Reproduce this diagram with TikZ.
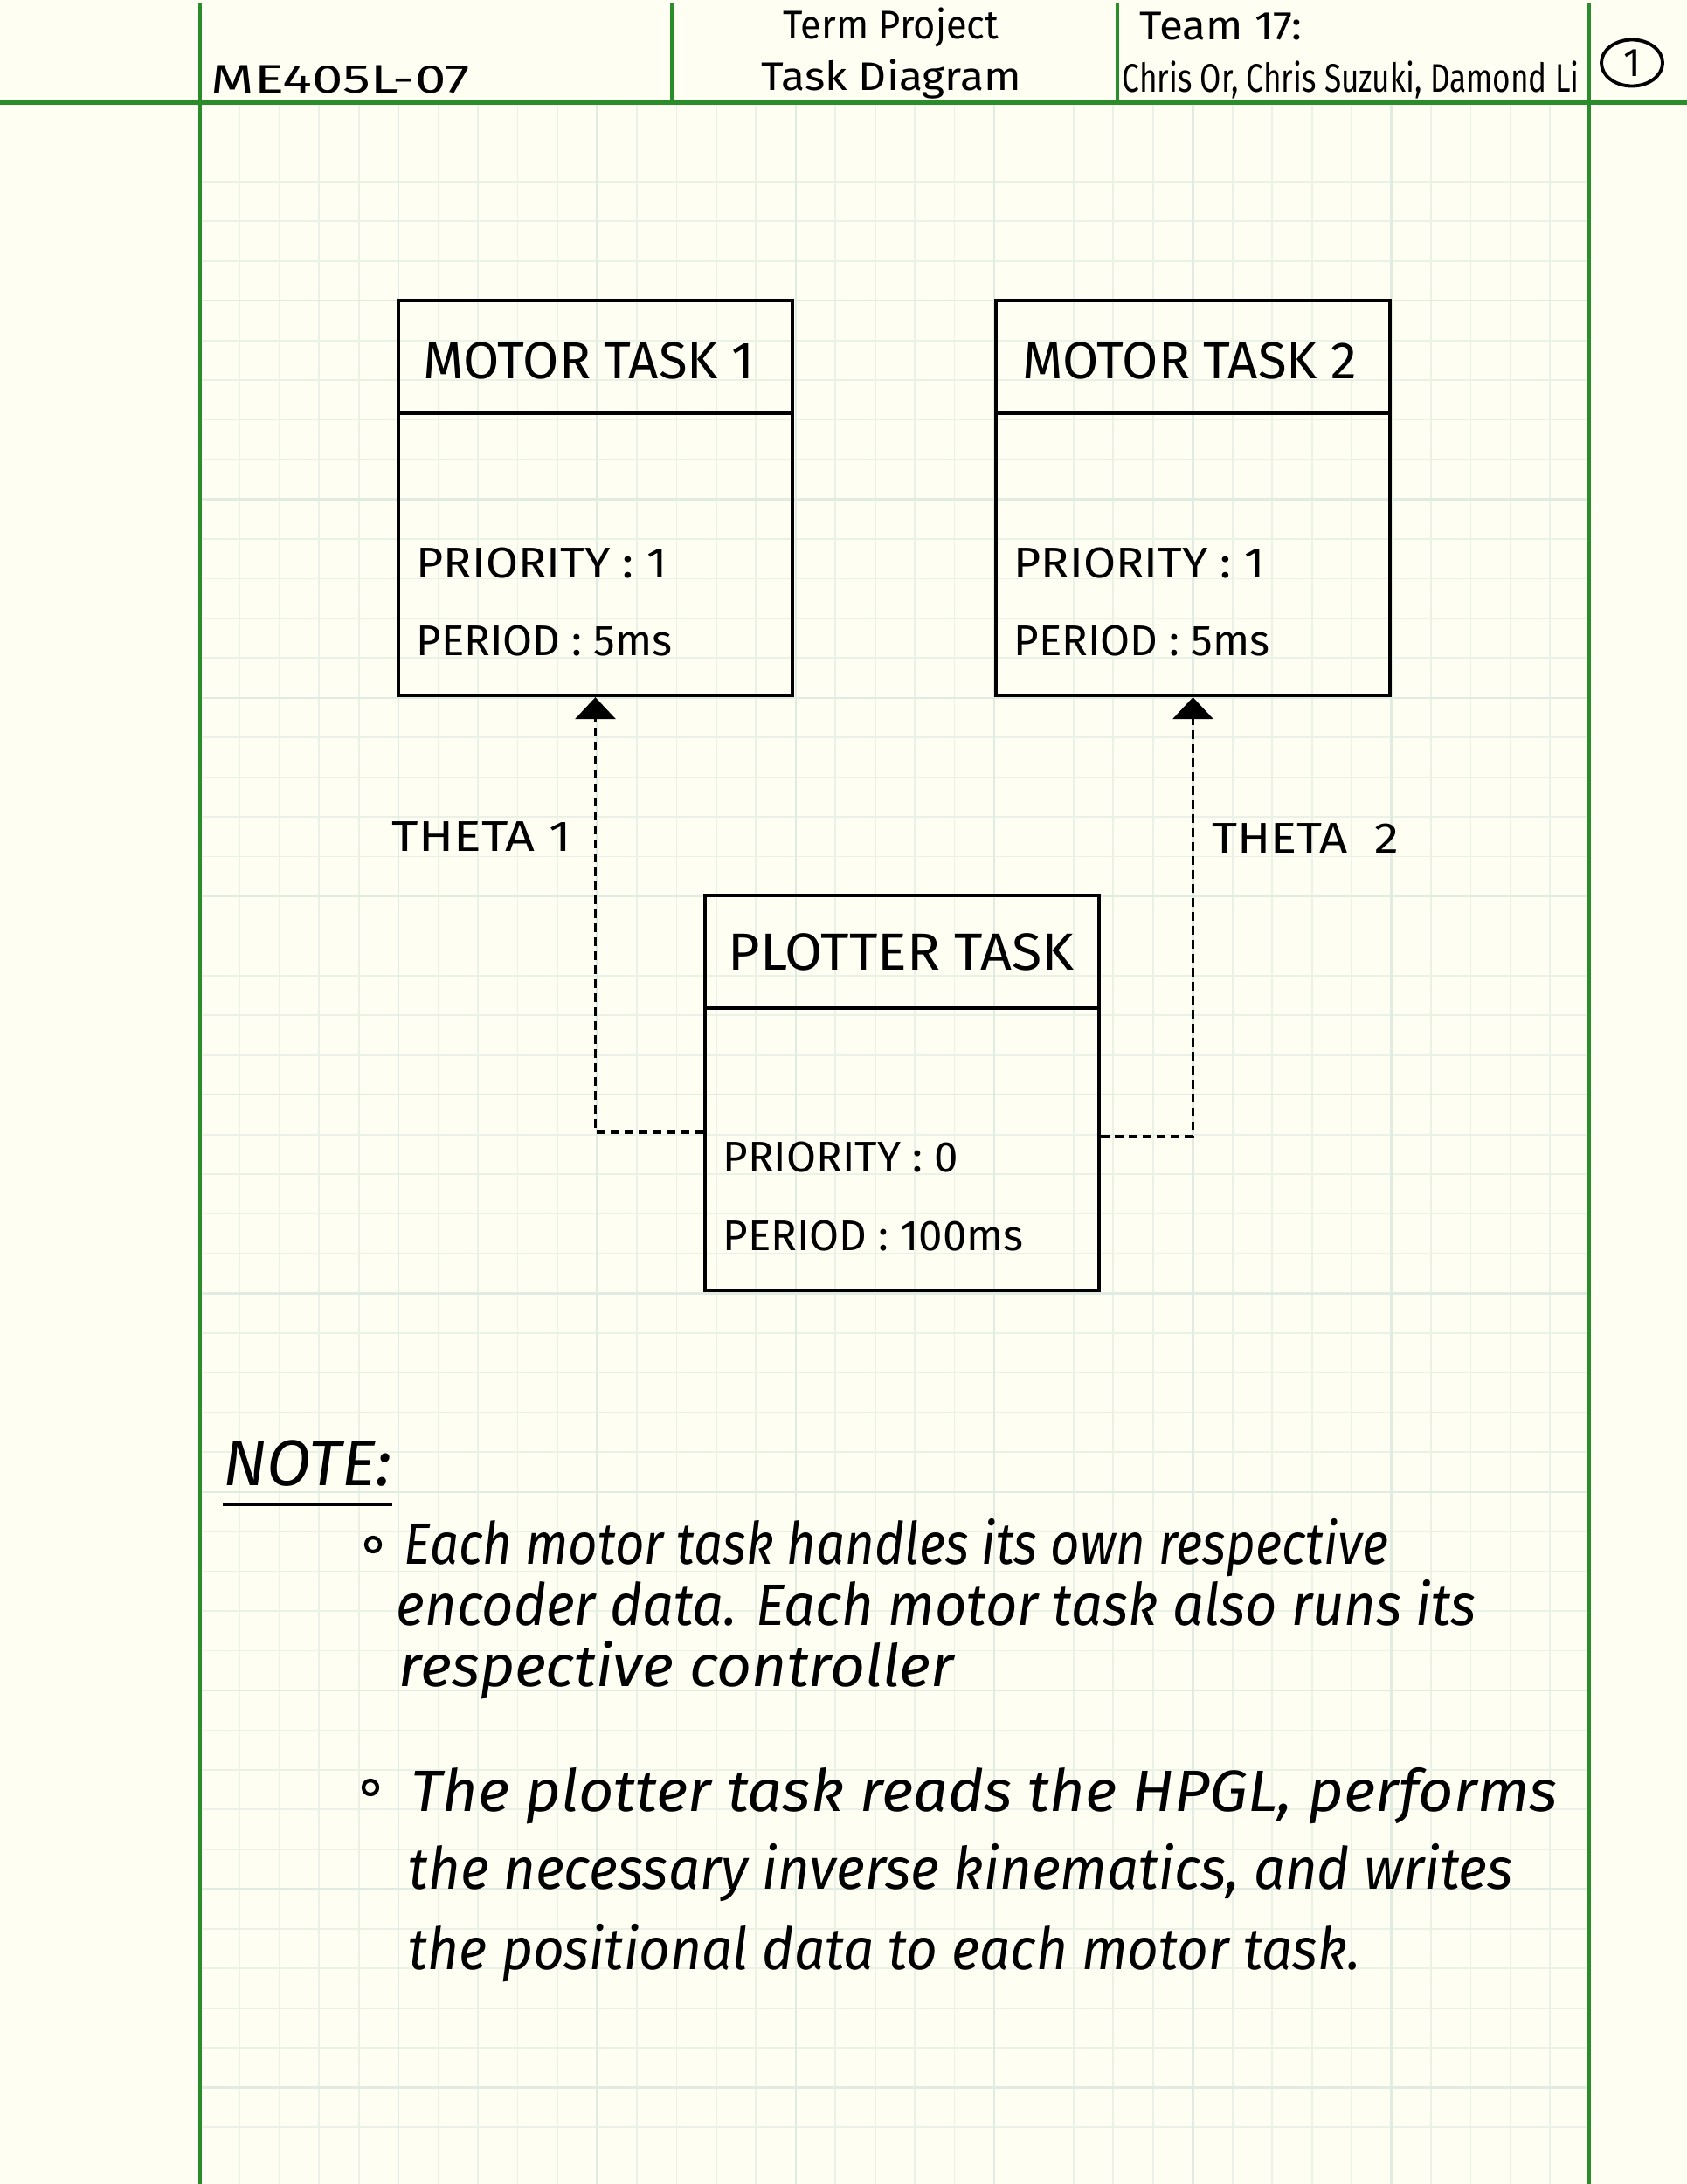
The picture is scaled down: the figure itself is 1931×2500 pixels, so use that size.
\documentclass[tikz,border=0pt]{standalone}
\usepackage{fontspec}
\usepackage{tikz}
\usetikzlibrary{arrows.meta,shapes.geometric,positioning}
\setmainfont{Fira Sans}
\definecolor{pad-paper}{RGB}{254,254,243}
\definecolor{pad-green}{RGB}{42,140,42}
\definecolor{pad-grid}{RGB}{234,241,231}
\definecolor{pad-gridmajor}{RGB}{224,235,226}
\newcommand{\widen}[2]{\scalebox{#1}[1]{#2}}

\begin{document}
\begin{tikzpicture}[x=0.01cm, y=-0.01cm,
    taskbox/.style={draw, line width=1.15pt, minimum width=4.51cm, minimum height=4.52cm, inner sep=0pt},
    divider/.style={line width=1.15pt},
    title/.style={anchor=west, inner sep=0pt, font=\fontsize{17}{17}\selectfont},
    field/.style={anchor=west, inner sep=0pt, font=\fontsize{14}{14}\selectfont},
    dataflow/.style={dash pattern=on 0.1cm off 0.06cm, line width=1pt, -{Triangle[width=0.46cm,length=0.25cm]}},
    header/.style={inner sep=0pt, font=\fontsize{13}{13}\selectfont},
    noteline/.style={anchor=base west, inner sep=0pt, font=\itshape\fontsize{19}{19}\selectfont},
    bulletdot/.style={draw, circle, line width=1.2pt, minimum size=0.16cm, inner sep=0pt},
    margin/.style={pad-green, line width=1.1pt}]
    \useasboundingbox (0,0) rectangle (1931,2500);
    \fill[pad-paper] (0,0) rectangle (1931,2500);

    % graph paper
    \foreach \k in {0,...,35}
        \draw[pad-grid, line width=0.5pt] ({229+45.45*\k},117) -- ({229+45.45*\k},2500);
    \foreach \k in {0,...,52}
        \draw[pad-grid, line width=0.5pt] (229,{117+45.45*\k}) -- (1819,{117+45.45*\k});
    \foreach \k in {0,5,...,35}
        \draw[pad-gridmajor, line width=0.7pt] ({229+45.45*\k},117) -- ({229+45.45*\k},2500);
    \foreach \k in {0,5,...,50}
        \draw[pad-gridmajor, line width=0.7pt] (229,{117+45.45*\k}) -- (1819,{117+45.45*\k});

    % title block
    \draw[margin] (229,4) -- (229,2500);
    \draw[margin] (1819,4) -- (1819,2500);
    \draw[margin] (769,4) -- (769,117);
    \draw[margin] (1279,4) -- (1279,117);
    \draw[pad-green, line width=1.5pt] (0,117) -- (1931,117);

    \node[header, anchor=west] (course) at (241,91) {\widen{1.39}{ME405L-07}};
    \node[header] (proj) at (1020,32) {\widen{0.95}{Term Project}};
    \node[header] (diag) at (1020,91) {\widen{1.09}{Task Diagram}};
    \node[header, anchor=west] (team) at (1304,30) {\widen{1.08}{Team 17:}};
    \node[header, anchor=west] (names) at (1284,91) {\widen{0.77}{Chris Or, Chris Suzuki, Damond Li}};
    \node[header, draw, ellipse, line width=1.1pt, minimum width=0.7cm, minimum height=0.53cm] (page) at (1868,72) {1};

    % tasks
    \node[taskbox] (m1) at (681.5,570) {};
    \node[taskbox] (m2) at (1365.5,570) {};
    \node[taskbox] (plot) at (1032.5,1251) {};

    \draw[divider] ([yshift=-1.31cm]m1.north west) -- ([yshift=-1.31cm]m1.north east);
    \draw[divider] ([yshift=-1.31cm]m2.north west) -- ([yshift=-1.31cm]m2.north east);
    \draw[divider] ([yshift=-1.31cm]plot.north west) -- ([yshift=-1.31cm]plot.north east);

    \node[title] (m1name) at ([xshift=0.3cm, yshift=-0.71cm]m1.north west) {MOTOR TASK 1};
    \node[field] (m1prio) at ([xshift=0.22cm, yshift=-3.03cm]m1.north west) {\widen{1.09}{PRIORITY : 1}};
    \node[field] (m1per) at ([xshift=0.22cm, yshift=-3.91cm]m1.north west) {PERIOD : 5ms};

    \node[title] (m2name) at ([xshift=0.32cm, yshift=-0.71cm]m2.north west) {MOTOR TASK 2};
    \node[field] (m2prio) at ([xshift=0.22cm, yshift=-3.03cm]m2.north west) {\widen{1.09}{PRIORITY : 1}};
    \node[field] (m2per) at ([xshift=0.22cm, yshift=-3.91cm]m2.north west) {PERIOD : 5ms};

    \node[title] (plotname) at ([xshift=0.28cm, yshift=-0.67cm]plot.north west) {\widen{1.05}{PLOTTER TASK}};
    \node[field] (plotprio) at ([xshift=0.22cm, yshift=-3.02cm]plot.north west) {PRIORITY : 0};
    \node[field] (plotper) at ([xshift=0.22cm, yshift=-3.91cm]plot.north west) {PERIOD : 100ms};

    \draw[dataflow] ([yshift=-0.45cm]plot.west) -| (m1.south)
        node[field, pos=0.84, anchor=east, xshift=-0.26cm] (theta1) {\widen{1.2}{THETA 1}};
    \draw[dataflow] ([yshift=-0.5cm]plot.east) -| (m2.south)
        node[field, pos=0.84, anchor=west, xshift=0.2cm] (theta2) {\widen{1.14}{THETA\hspace{0.55em}2}};

    % notes
    \node[anchor=base west, inner sep=0pt, font=\itshape\fontsize{21}{21}\selectfont] (note) at (255,1700) {NOTE:};
    \draw[line width=1.1pt] ([yshift=-0.2cm]note.south west) -- ([yshift=-0.2cm]note.south east);

    \node[bulletdot] (b1) at (427,1768) {};
    \node[noteline] (n1) at (462,1790) {\widen{0.87}{Each motor task handles its own respective}};
    \node[noteline] (n2) at (453,1860) {\widen{0.946}{encoder data. Each motor task also runs its}};
    \node[noteline] (n3) at (456,1930) {\widen{1.04}{respective controller}};

    \node[bulletdot] (b2) at (424,2046) {};
    \node[noteline] (n4) at (470,2073) {\widen{1.05}{The plotter task reads the HPGL, performs}};
    \node[noteline] (n5) at (467,2162) {\widen{0.95}{the necessary inverse kinematics, and writes}};
    \node[noteline] (n6) at (467,2254) {\widen{0.93}{the positional data to each motor task.}};
\end{tikzpicture}
\end{document}
